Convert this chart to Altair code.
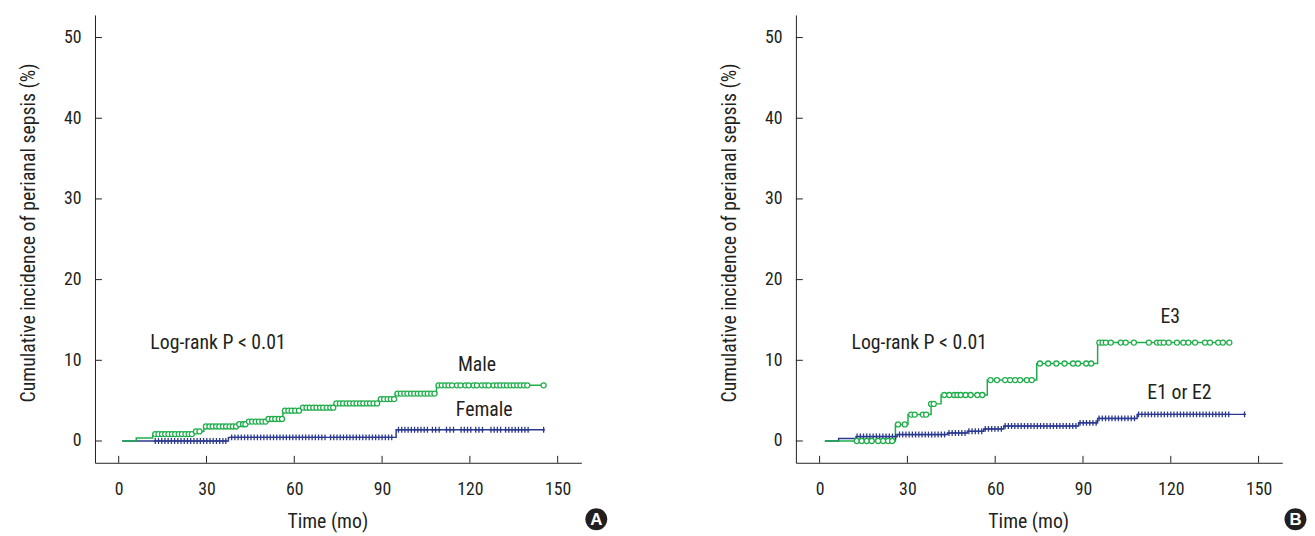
import altair as alt
import pandas as pd
import numpy as np

FONT = "Roboto Condensed, Liberation Sans Narrow, Arial Narrow, Roboto, sans-serif"
GREEN = "#1fae4b"
BLUE = "#2b3990"
INK = "#231f20"

x_ticks = [0, 30, 60, 90, 120, 150]
y_ticks = [0, 10, 20, 30, 40, 50]
x_title = "Time (mo)"
y_title = "Cumulative incidence of perianal sepsis (%)"

# ---------------- Panel A ----------------
male_step_t = [1.2, 6.0, 11.6, 25.7, 29.1, 40.4, 43.8, 50.5, 56.1, 62.3, 73.6, 88.8, 94.5, 108.6, 145.2]
male_step_v = [0, 0.37, 0.86, 1.19, 1.8, 2.08, 2.41, 2.73, 3.76, 4.13, 4.66, 5.19, 5.88, 6.9, 6.9]
male_cens_t = [12.5, 13.6, 14.8, 15.9, 17.0, 18.2, 19.3, 20.5, 21.6, 22.8, 23.9, 25.0, 26.4, 27.6,
               29.8, 31.0, 32.1, 33.3, 34.4, 35.6, 36.7, 37.9, 39.0, 40.1,
               41.2, 42.5, 43.3,
               44.5, 45.6, 46.8, 47.9, 49.1, 50.2,
               51.2, 52.4, 53.5, 54.7, 55.8,
               56.8, 58.0, 59.1, 60.3, 61.6,
               63.0, 64.2, 65.3, 66.5, 67.6, 68.8, 69.9, 71.1, 72.3, 73.3,
               74.4, 75.6, 76.7, 77.9, 79.0, 80.2, 81.3, 82.5, 83.6, 84.8, 85.9, 87.1, 88.3,
               89.6, 90.7, 91.9, 93.0, 94.1,
               95.3, 96.4, 97.6, 98.7, 99.9, 101.0, 102.2, 103.3, 104.5, 105.6, 106.8, 107.9,
               109.3, 110.4, 111.6, 112.7, 113.9, 115.6, 116.8, 118.5, 119.6, 121.3, 122.4, 124.1,
               125.3, 126.4, 128.1, 129.3, 130.4, 131.6, 132.7, 133.9, 135.0, 136.2, 137.3, 138.5,
               139.6, 145.2]

female_step_t = [1.2, 37.5, 94.8, 145.2]
female_step_v = [0, 0.45, 1.39, 1.39]
female_cens_t = [12.5, 13.6, 14.7, 15.8, 16.9, 18.0, 19.1, 20.2, 21.3, 22.4, 23.5, 24.6, 25.7, 26.8,
                 27.9, 29.0, 30.1, 31.2, 32.3, 33.4, 34.5, 35.6, 36.6,
                 38.6, 39.7, 40.8, 41.9, 43.0, 44.1, 45.2, 46.3, 47.4, 48.5, 49.6, 50.7, 51.8, 52.9,
                 54.0, 55.1, 56.2, 57.3, 58.4, 59.5, 60.6, 61.7, 62.8, 63.9, 65.0, 66.1, 67.2, 68.3,
                 69.4, 70.5, 72.4, 73.5, 74.6, 75.7, 76.8, 77.9, 79.0, 80.1, 81.2, 82.3, 83.4, 84.5,
                 85.6, 86.7, 87.8, 88.9, 90.0, 91.1, 92.2, 93.3,
                 95.6, 96.7, 97.8, 98.9, 100.0, 101.1, 102.2, 103.3, 104.4, 105.5,
                 107.2, 108.3, 109.5, 112.0, 113.2, 114.4, 117.0, 118.1, 119.2, 120.3,
                 122.0, 123.1, 124.3, 127.2, 128.3, 129.4, 130.5,
                 132.2, 133.3, 134.4, 135.5, 136.6, 137.7, 138.8, 139.9, 145.2]

# ---------------- Panel B ----------------
e3_step_t = [1.8, 25.9, 30.2, 38.1, 41.5, 57.3, 74.2, 95.0, 140.0]
e3_step_v = [0, 2.05, 3.27, 4.6, 5.7, 7.55, 9.6, 12.2, 12.2]
e3_cens_t = [12.7, 14.4, 16.1, 17.8, 20.0, 21.7, 23.4, 24.8,
             26.8, 29.1,
             31.3, 32.5, 35.3, 36.4,
             38.1, 39.0,
             42.6, 44.3, 46.0, 47.1, 48.2, 49.9, 51.6, 53.9, 55.6,
             58.4, 60.6, 63.4, 65.1, 66.8, 68.5, 70.8, 72.5,
             75.3, 78.1, 80.9, 83.7, 86.6, 88.3, 91.1, 92.8,
             95.6, 96.7, 97.8, 99.5, 102.9, 104.6, 107.4, 112.5, 115.3, 116.4, 117.6, 119.3,
             122.1, 124.3, 126.0, 128.3, 131.7, 133.4, 136.2, 137.8, 140.0]

e12_step_t = [1.8, 6.5, 12.5, 26.5, 43.7, 50.5, 56.1, 62.9, 88.5, 95.0, 108.5, 145.2]
e12_step_v = [0, 0.3, 0.55, 0.8, 1.0, 1.2, 1.5, 1.85, 2.25, 2.8, 3.3, 3.3]
e12_cens_t = [12.8, 13.9, 15.0, 16.1, 17.2, 18.3, 19.4, 20.5, 21.6, 22.7, 23.8, 24.9, 26.0, 27.3,
              28.4, 29.5, 30.6, 31.7, 32.8, 33.9, 35.0, 36.1, 37.2, 38.3, 39.4, 40.5, 41.6, 42.7,
              44.2, 45.3, 46.4, 47.5, 48.6, 49.7, 51.0, 52.1, 53.2, 54.3, 55.4, 56.6, 57.7, 58.8,
              59.9, 61.0, 62.1, 63.4, 64.5, 65.6, 66.7, 67.8, 68.9, 70.0, 71.1, 72.2, 73.3, 74.4,
              75.5, 76.6, 77.7, 78.8, 79.9, 81.0, 82.1, 83.2, 84.3, 85.4, 86.5, 87.6, 89.0, 90.1,
              91.2, 92.3, 93.4, 94.5, 95.5, 96.6, 97.7, 98.8, 99.9, 101.0, 102.1, 103.2, 104.3,
              105.4, 106.5, 107.6, 109.0, 110.1, 111.2, 112.3, 113.4, 114.5, 115.6, 116.7, 117.8,
              118.9, 120.0, 121.1, 122.2, 123.3, 124.4, 125.5, 126.6, 127.7, 128.8, 129.9, 131.0,
              132.1, 133.2, 134.3, 135.4, 136.5, 137.6, 138.7, 139.8, 145.2]

# annotations (data units)
notes_A = [("Log-rank P < 0.01", 10.8, 12.1, "left"), ("Male", 115.9, 9.4, "left"), ("Female", 115.2, 3.8, "left")]
notes_B = [("Log-rank P < 0.01", 10.9, 12.1, "left"), ("E3", 119.8, 15.3, "center"), ("E1 or E2", 112.0, 6.0, "left")]

W, H = 492, 453
XD = [-8.1, 158.1]
YD = [-2.7, 52.8]


def step_df(ts, vs):
    return pd.DataFrame({"t": ts, "v": vs})


def cens_df(step_t, step_v, cens_t):
    st = np.asarray(step_t)
    sv = np.asarray(step_v)
    idx = np.searchsorted(st, np.asarray(cens_t), side="right") - 1
    return pd.DataFrame({"t": cens_t, "v": sv[idx]})


def X(field="t"):
    return alt.X(field, type="quantitative",
                 scale=alt.Scale(domain=XD, nice=False, zero=False),
                 axis=alt.Axis(values=x_ticks, title=x_title, ticks=False, labelPadding=18,
                               titlePadding=13, titleX=235, domainColor=INK, grid=False))


def Y(field="v"):
    return alt.Y(field, type="quantitative",
                 scale=alt.Scale(domain=YD, nice=False, zero=False),
                 axis=alt.Axis(values=y_ticks, title=y_title, ticks=False, labelPadding=14,
                               titlePadding=25, titleY=220, domainColor=INK, grid=False))


def panel(green_step, green_cens, blue_step, blue_cens, notes, badge, badge_t_pos):
    ticks_x = alt.Chart(pd.DataFrame({"t": x_ticks})).mark_rule(color=INK, strokeWidth=1).encode(
        x=X(), y=alt.value(H), y2=alt.value(H - 7))
    ticks_y = alt.Chart(pd.DataFrame({"v": y_ticks})).mark_rule(color=INK, strokeWidth=1).encode(
        y=Y(), x=alt.value(0), x2=alt.value(7))
    blue_line = alt.Chart(blue_step).mark_line(interpolate="step-after", color=BLUE, strokeWidth=1.5).encode(
        x=X(), y=Y())
    blue_pts = alt.Chart(blue_cens).mark_point(shape="M0,-1L0,1M-0.5,0L0.5,0", filled=False, stroke=BLUE,
                                              strokeWidth=1.3, size=36, opacity=1).encode(x=X(), y=Y())
    green_line = alt.Chart(green_step).mark_line(interpolate="step-after", color=GREEN, strokeWidth=1.5).encode(
        x=X(), y=Y())
    green_pts = alt.Chart(green_cens).mark_point(shape="circle", filled=True, fill="white", stroke=GREEN,
                                                strokeWidth=1.3, size=26, opacity=1).encode(x=X(), y=Y())
    ndf = pd.DataFrame(notes, columns=["label", "t", "v", "al"])
    left_txt = alt.Chart(ndf[ndf.al == "left"]).mark_text(align="left", baseline="middle", font=FONT,
                                                           fontSize=20, color=INK).encode(
        x=X(), y=Y(), text="label")
    ctr_txt = alt.Chart(ndf[ndf.al == "center"]).mark_text(align="center", baseline="middle", font=FONT,
                                                           fontSize=20, color=INK).encode(
        x=X(), y=Y(), text="label")
    bdf = pd.DataFrame({"label": [badge], "t": [badge_t_pos], "v": [-9.7]})
    badge_c = alt.Chart(bdf).mark_point(shape="circle", filled=True, color=INK, size=490, opacity=1).encode(
        x=X(), y=Y())
    badge_t = alt.Chart(bdf).mark_text(align="center", baseline="middle", font="Liberation Sans",
                                       fontWeight="bold", fontSize=17, color="white", dy=1).encode(
        x=X(), y=Y(), text="label")
    return alt.layer(blue_line, green_line, blue_pts, green_pts, ticks_x, ticks_y,
                     left_txt, ctr_txt, badge_c, badge_t).properties(width=W, height=H)


pA = panel(step_df(male_step_t, male_step_v), cens_df(male_step_t, male_step_v, male_cens_t),
           step_df(female_step_t, female_step_v), cens_df(female_step_t, female_step_v, female_cens_t),
           notes_A, "A", 163.2)
pB = panel(step_df(e3_step_t, e3_step_v), cens_df(e3_step_t, e3_step_v, e3_cens_t),
           step_df(e12_step_t, e12_step_v), cens_df(e12_step_t, e12_step_v, e12_cens_t),
           notes_B, "B", 162.6)

chart = alt.hconcat(pA, pB, spacing=113).properties(
    padding={"left": 11, "top": 4, "right": 0, "bottom": 0}
).configure_view(stroke=None).configure_axis(
    labelFont=FONT, labelFontSize=18, labelColor=INK,
    titleFont=FONT, titleFontSize=20, titleFontWeight="normal", titleColor=INK,
    domainWidth=1
)

chart.save("out.html", embed_options={"renderer": "svg", "actions": False})
